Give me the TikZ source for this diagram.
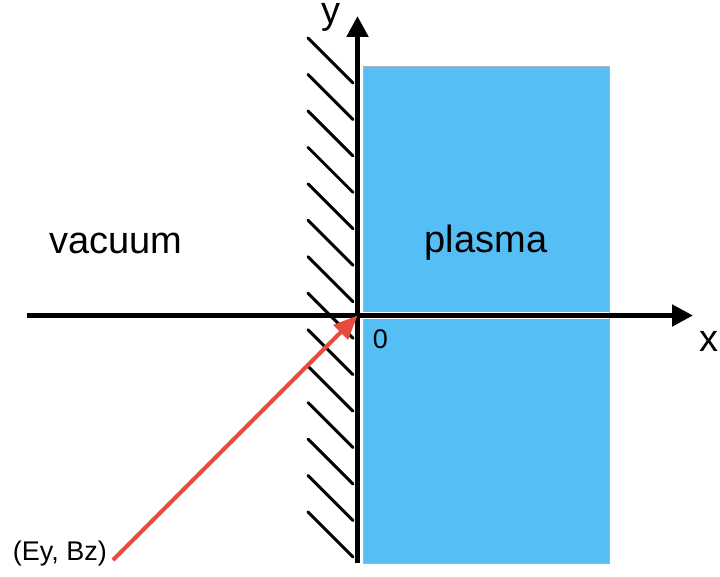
\documentclass[tikz,border=0pt]{standalone}
\usepackage{fontspec}
\setmainfont{Liberation Sans}
\usetikzlibrary{arrows.meta}
\definecolor{plasmablue}{RGB}{85,190,245}
\definecolor{rayred}{RGB}{232,74,60}
\begin{document}
\begin{tikzpicture}[x=1pt,y=-1pt,
    axis/.style={line width=5pt,-{Triangle[length=21pt,width=21pt]}},
    hatch/.style={line width=3pt,line cap=round},
    big/.style={font=\fontsize{38}{40}\selectfont,inner sep=0pt},
    small/.style={font=\fontsize{27}{30}\selectfont,inner sep=0pt}]
    \useasboundingbox (0,0) rectangle (720,577);
    \coordinate (O) at (357.5,315.5);
    \coordinate (xl) at (27,315.5);
    \coordinate (xr) at (693,315.5);
    \coordinate (yb) at (357.5,563);
    \coordinate (yt) at (357.5,16);
    \coordinate (src) at (113,560);
    % plasma slab
    \draw[fill=plasmablue,draw=gray!60,line width=0.8pt] (363,66) rectangle (609,563);
    \draw[white,line width=7pt] (363,315.5) -- (609,315.5);
    % wall
    \foreach \k in {0,...,13}
        \draw[hatch] (308,{38+36.46*\k}) -- ++(45,45);
    \draw[axis] (xl) -- (xr);
    \draw[axis] (yb) -- (yt);
    \draw[rayred,line width=4pt,-{Triangle[length=24pt,width=20pt]}] (src) -- (O);
    \node[big,anchor=base] (vac) at (116,254) {vacuum};
    \node[big,anchor=base] (pla) at (486,253) {plasma};
    \node[big,anchor=base] (ylab) at (331,24) {y};
    \node[big,anchor=base] (xlab) at (709,351) {x};
    \node[small,anchor=base] (zero) at (380.5,348) {0};
    \node[small,anchor=base east] (wave) at (107,560) {(Ey, Bz)};
\end{tikzpicture}
\end{document}
